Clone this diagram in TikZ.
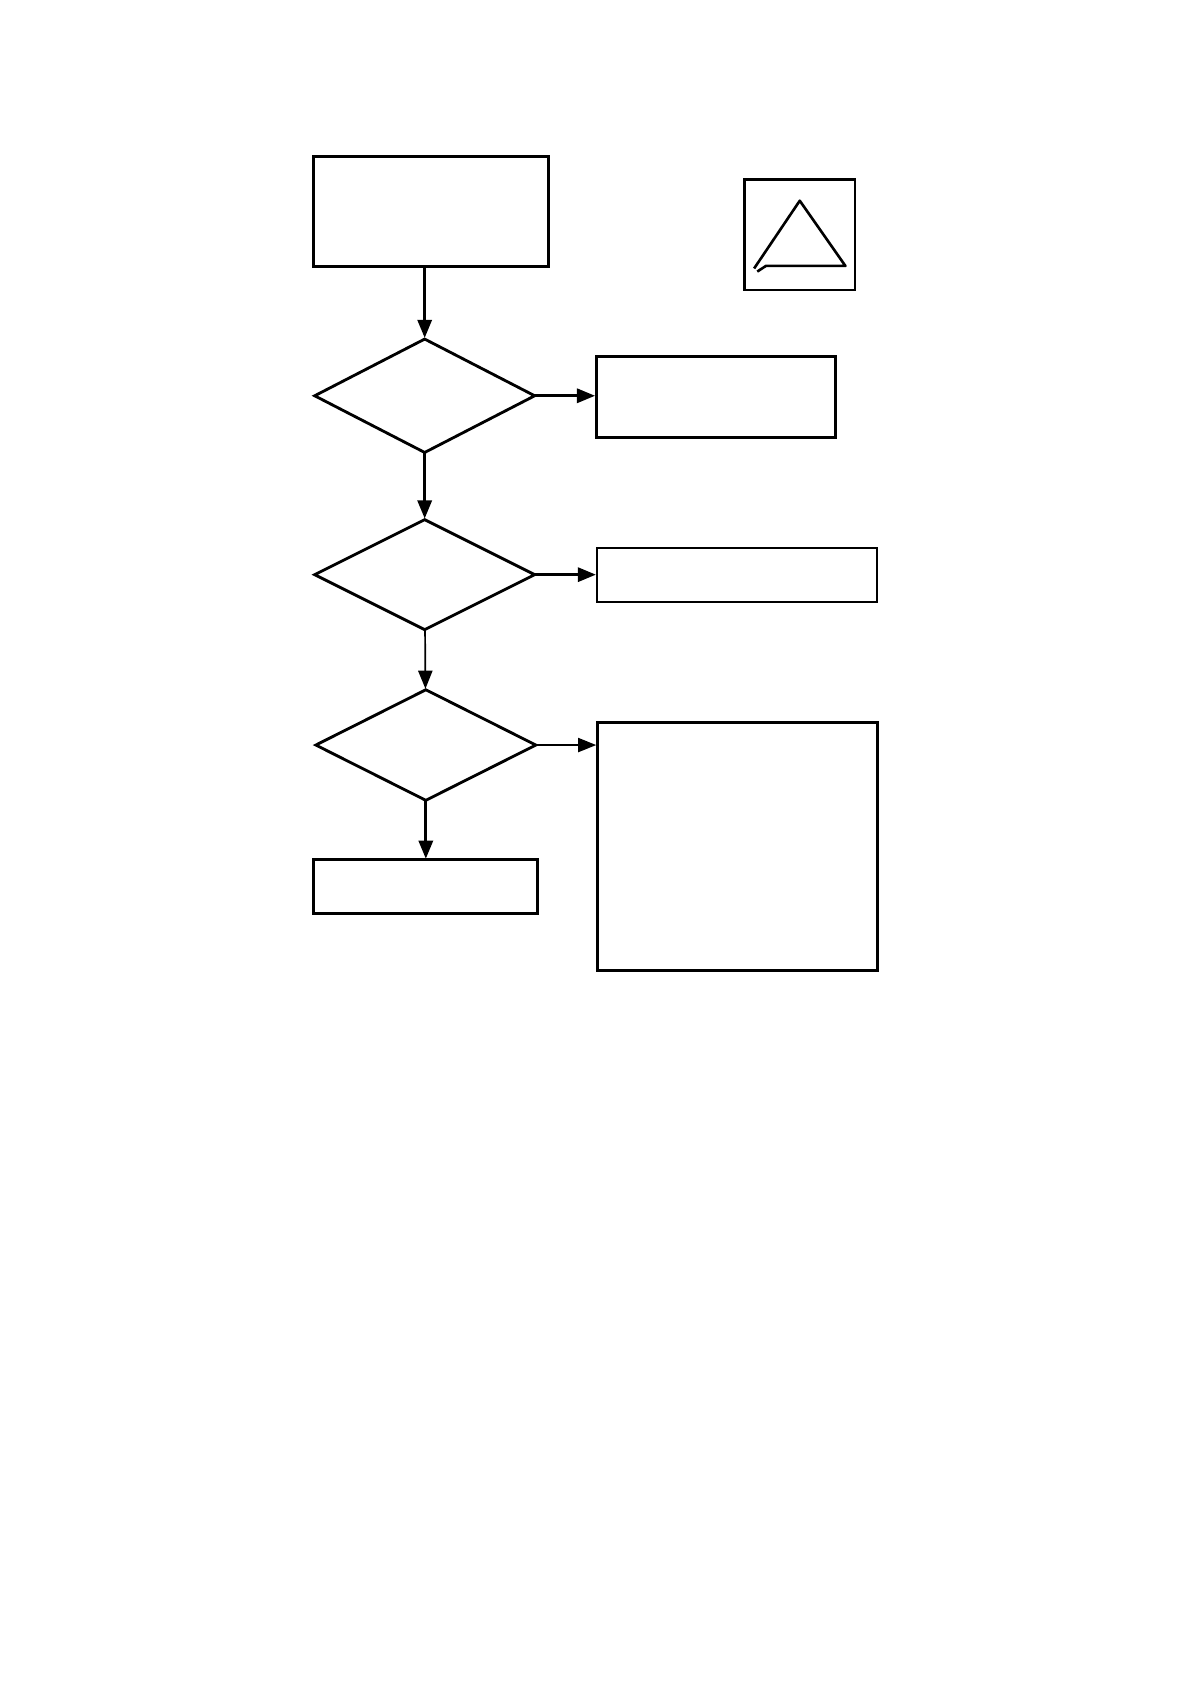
\documentclass[tikz,border=0pt]{standalone}
\usepackage{tikz}
\usetikzlibrary{arrows.meta,positioning,calc,shapes.geometric}
\tikzset{
  blockbox/.style={draw=black,rectangle,line width=0.52mm,inner sep=0pt,outer sep=0pt},
  thinbox/.style={draw=black,rectangle,line width=0.44mm,inner sep=0pt,outer sep=0pt},
  decbox/.style={draw=black,diamond,line width=0.5mm,inner sep=0pt,outer sep=0pt,
              minimum width=38.8mm,minimum height=19.6mm},
  flow/.style={-{Triangle[length=3.2mm,width=2.5mm]},line width=0.5mm,draw=black,shorten >=0.2mm},
  thinflow/.style={-{Triangle[length=3.2mm,width=2.5mm]},line width=0.3mm,draw=black,shorten >=0.2mm},
  signline/.style={line width=0.46mm,draw=black,line join=round}
}
\begin{document}
\begin{tikzpicture}[node distance=8mm and 10mm]
  \useasboundingbox (0,0) rectangle (210mm,-297mm);
  \node[blockbox,minimum width=41.5mm,minimum height=19.4mm] (start) at (76.05mm,-37.3mm) {};
  \node[thinbox,minimum width=19.5mm,minimum height=19.5mm] (signbox) at (141.05mm,-41.4mm) {};
  \node[decbox,minimum height=20mm,below=12.8mm of start,xshift=-1.15mm] (decA) {};
  \node[blockbox,minimum width=42.2mm,minimum height=14.4mm,right=10.85mm of decA,yshift=-0.2mm] (resultA) {};
  \node[decbox,minimum height=19.4mm,below=11.85mm of decA] (decB) {};
  \node[thinbox,minimum width=49.4mm,minimum height=9.5mm,right=11mm of decB,yshift=-0.05mm] (resultB) {};
  \node[decbox,minimum height=19.5mm,below=10.6mm of decB,xshift=0.2mm] (decC) {};
  \node[blockbox,minimum width=49.4mm,minimum height=43.7mm,below right=-3.9mm and 10.85mm of decC.east,anchor=north west] (resultC) {};
  \node[blockbox,minimum width=39.5mm,minimum height=9.5mm,below=10.5mm of decC] (finish) {};
  \draw[flow] (start.south -| decA.north) -- (decA.north);
  \draw[flow] (decA) -- (decB);
  \draw[flow] (decA.east) -- (decA.east -| resultA.west);
  \draw[thinflow] (decB) -- (decC);
  \draw[flow] (decB.east) -- (decB.east -| resultB.west);
  \draw[thinflow] (decC.east) -- (decC.east -| resultC.west);
  \draw[flow] (decC) -- (finish);
  \draw[signline] ($(signbox.center)+(-8.05mm,-5.95mm)$) -- ($(signbox.center)+(0mm,6mm)$)
    -- ($(signbox.center)+(8.05mm,-5.5mm)$) -- ($(signbox.center)+(-5.97mm,-5.5mm)$)
    -- ($(signbox.center)+(-7.5mm,-6.5mm)$);
\end{tikzpicture}
\end{document}
